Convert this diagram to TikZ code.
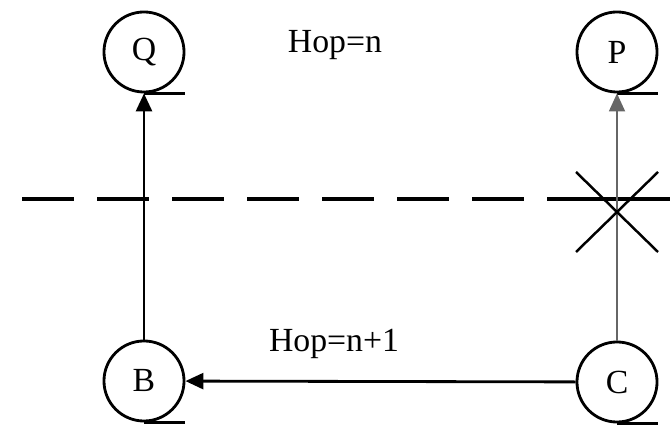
\documentclass[tikz,border=0pt]{standalone}
\usepackage{fontspec}
\setmainfont{Liberation Serif}
\usepackage{tikz}
\usetikzlibrary{arrows.meta,positioning}

\begin{document}
\begin{tikzpicture}[x=0.01cm, y=-0.01cm,
		reel/.style={circle, draw, line width=0.8pt, minimum size=0.8cm, inner sep=0pt, font=\fontsize{9.6}{11}\selectfont},
		hop/.style={anchor=base, font=\fontsize{9.6}{11}\selectfont},
		link/.style={line width=0.8pt, -{Triangle[length=1.8mm, width=1.6mm]}}]
			\useasboundingbox (0,0) rectangle (670,428);
			\node[reel] (Q) at (144,52) {Q};
			\node[reel] (P) at (617,52) {P};
			\node[reel] (B) at (144,381) {B};
			\node[reel] (C) at (617,382) {C};
			% tails of the reels
			\foreach \n in {Q,P,B,C}
				\draw[line width=0.8pt] (\n.south) -- (\n.south -| \n.east);
			\node[hop] (hopn) at (335,53) {Hop=n};
			\node[hop] (hopn1) at (334,352) {Hop=n+1};
			% boundary
			\draw[line width=0.9pt, dash pattern=on 0.52cm off 0.23cm] (22,199) -- (548,199);
			\draw[line width=0.9pt] (548,199) -- (670,199);
			\draw[link] (B) -- (Q);
			\draw[link] (C) -- (B);
			\draw[link, line width=0.5pt, gray!80!black] (C) -- (P);
			% broken link
			\coordinate (cut) at (617,212);
			\draw[line width=0.7pt] (cut) ++(-41,-40) -- ++(82,80);
			\draw[line width=0.7pt] (cut) ++(41,-40) -- ++(-82,80);
		\end{tikzpicture}
\end{document}
